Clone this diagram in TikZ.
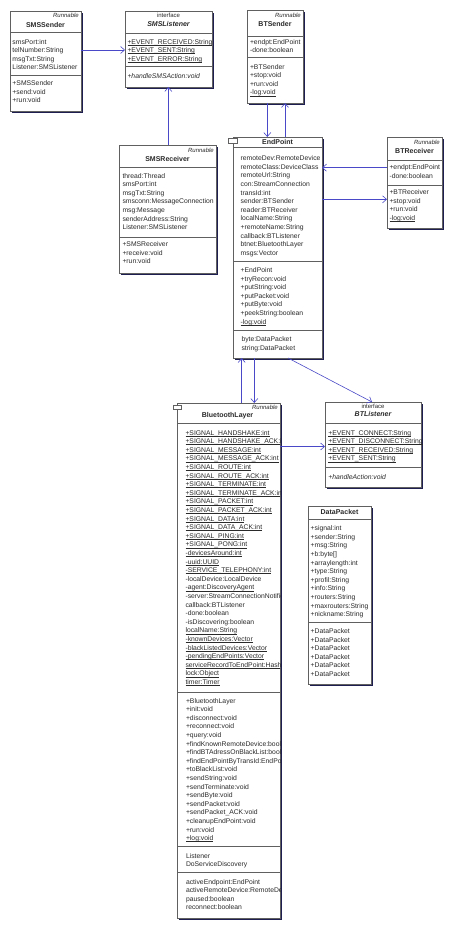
\documentclass[tikz,border=0pt]{standalone}
\usepackage{fontspec}
\setmainfont{Liberation Sans}
\usetikzlibrary{arrows.meta}
\definecolor{connc}{HTML}{4a4ac8}
\definecolor{shad}{HTML}{1e1e50}
\definecolor{bord}{HTML}{606060}
\definecolor{txt}{HTML}{2a2a2a}
\newcommand\fs{\fontsize{6.8}{8.6}\selectfont}
\newcommand\ul[1]{\setbox0\hbox{#1}\rlap{\rule[-1.1pt]{\wd0}{0.45pt}}\box0}
\tikzset{
 x=1pt,y=-1pt,
 cbox/.style={draw=bord, fill=white, line width=0.6pt, inner sep=0pt, outer sep=0pt, anchor=north west},
 cmp/.style={anchor=north west, inner sep=0pt, outer sep=0pt, align=left, font=\fs, text=txt},
 hname/.style={anchor=base, inner sep=0pt, font=\fontsize{7}{8}\selectfont\bfseries, text=txt},
 hsmall/.style={anchor=base east, inner sep=0pt, font=\fontsize{6}{7}\selectfont\itshape, text=txt},
 hint/.style={anchor=base, inner sep=0pt, font=\fontsize{6}{7}\selectfont, text=txt},
 sepl/.style={draw=bord, line width=0.6pt},
 conn/.style={draw=connc, line width=0.6pt, -{Straight Barb[length=4pt,width=7pt]}},
 icon/.style={draw=bord, fill=white, line width=0.5pt},
}
\newcommand\umlbox[5]{%
 \fill[shad] (#2+1.6,#3+1.6) rectangle (#4+1.6,#5+1.6);
 \node[cbox, minimum width={(#4)-(#2)}, minimum height={(#5)-(#3)}] (#1) at (#2,#3) {};}
\newcommand\sepat[2]{\draw[sepl] (#1.west |- 0,#2) -- (#1.east |- 0,#2);}
\begin{document}
\begin{tikzpicture}
\fill[white] (0,0) rectangle (450,925);
\useasboundingbox (0,0) rectangle (450,925);

% ---------- SMSSender
\umlbox{smssender}{10}{11}{81}{111}
\node[hsmall] (smssender-st) at (79,18) {Runnable};
\node[hname] (smssender-n) at (45.5,27.5) {SMSSender};
\sepat{smssender}{32}
\node[cmp] (smssender-a) at (12.5,41.7-3.6) {\strut smsPort:int\\telNumber:String\\msgTxt:String\\Listener:SMSListener};
\sepat{smssender}{75}
\node[cmp] (smssender-m) at (12.5,83.3-3.6) {\strut +SMSSender\\+send:void\\+run:void};

% ---------- SMSListener
\umlbox{smslistener}{125}{11}{212}{87}
\node[hint] (smslistener-st) at (168.5,17.9) {interface};
\node[hname, font=\fontsize{7}{8}\selectfont\bfseries\itshape] (smslistener-n) at (168.5,26.8) {SMSListener};
\sepat{smslistener}{33}
\node[cmp] (smslistener-a) at (127.5,41.7-3.6) {\strut\ul{+EVENT\_RECEIVED:String}\\\ul{+EVENT\_SENT:String}\\\ul{+EVENT\_ERROR:String}};
\sepat{smslistener}{66.7}
\node[cmp] (smslistener-m) at (127.5,76-3.6) {\strut\itshape +handleSMSAction:void};

% ---------- BTSender
\umlbox{btsender}{247}{10}{303}{103}
\node[hsmall] (btsender-st) at (301,17.9) {Runnable};
\node[hname] (btsender-n) at (275,26.8) {BTSender};
\sepat{btsender}{36}
\node[cmp] (btsender-a) at (250,41.7-3.6) {\strut +endpt:EndPoint\\-done:boolean};
\sepat{btsender}{57.3}
\node[cmp] (btsender-m) at (250,66.7-3.6) {\strut +BTSender\\+stop:void\\+run:void\\\ul{-log:void}};

% ---------- EndPoint
\umlbox{endpoint}{233}{137}{322}{358}
\draw[icon] (228,138.3) rectangle (237.5,142.8);
\node[hname] (endpoint-n) at (277.5,144.2) {EndPoint};
\sepat{endpoint}{147}
\node[cmp] (endpoint-a) at (240.7,158.3-3.6) {\strut remoteDev:RemoteDevice\\remoteClass:DeviceClass\\remoteUrl:String\\con:StreamConnection\\transId:int\\sender:BTSender\\reader:BTReceiver\\localName:String\\+remoteName:String\\callback:BTListener\\btnet:BluetoothLayer\\msgs:Vector};
\sepat{endpoint}{261.5}
\node[cmp] (endpoint-m) at (240.7,270-3.6) {\strut +EndPoint\\+tryRecon:void\\+putString:void\\+putPacket:void\\+putByte:void\\+peekString:boolean\\\ul{-log:void}};
\sepat{endpoint}{330.7}
\node[cmp] (endpoint-i) at (241.5,339.3-3.6) {\strut byte:DataPacket\\string:DataPacket};

% ---------- BTReceiver
\umlbox{btreceiver}{387}{137}{442}{228}
\node[hsmall] (btreceiver-st) at (440,144.2) {Runnable};
\node[hname] (btreceiver-n) at (414.5,153.2) {BTReceiver};
\sepat{btreceiver}{160}
\node[cmp] (btreceiver-a) at (389.5,167.3-3.6) {\strut +endpt:EndPoint\\-done:boolean};
\sepat{btreceiver}{185}
\node[cmp] (btreceiver-m) at (389.5,192.3-3.6) {\strut +BTReceiver\\+stop:void\\+run:void\\\ul{-log:void}};

% ---------- SMSReceiver
\umlbox{smsreceiver}{119}{145}{216}{273}
\node[hsmall] (smsreceiver-st) at (214,152.2) {Runnable};
\node[hname] (smsreceiver-n) at (167.5,161.5) {SMSReceiver};
\sepat{smsreceiver}{167.3}
\node[cmp] (smsreceiver-a) at (122.5,175.7-3.6) {\strut thread:Thread\\smsPort:int\\msgTxt:String\\smsconn:MessageConnection\\msg:Message\\senderAddress:String\\Listener:SMSListener};
\sepat{smsreceiver}{237.3}
\node[cmp] (smsreceiver-m) at (122.5,244.3-3.6) {\strut +SMSReceiver\\+receive:void\\+run:void};

% ---------- BluetoothLayer
\umlbox{btlayer}{177}{403}{280}{918}
\draw[icon] (173.3,404.8) rectangle (181.7,408.8);
\node[hsmall] (btlayer-st) at (278,409.5) {Runnable};
\node[hname] (btlayer-n) at (227.5,417.5) {BluetoothLayer};
\sepat{btlayer}{423.3}
\begin{scope}
\clip (177,403) rectangle (280,918);
\node[cmp] (btlayer-a) at (185.5,432.7-3.6) {\strut\ul{+SIGNAL\_HANDSHAKE:int}\\\ul{+SIGNAL\_HANDSHAKE\_ACK:int}\\\ul{+SIGNAL\_MESSAGE:int}\\\ul{+SIGNAL\_MESSAGE\_ACK:int}\\\ul{+SIGNAL\_ROUTE:int}\\\ul{+SIGNAL\_ROUTE\_ACK:int}\\\ul{+SIGNAL\_TERMINATE:int}\\\ul{+SIGNAL\_TERMINATE\_ACK:int}\\\ul{+SIGNAL\_PACKET:int}\\\ul{+SIGNAL\_PACKET\_ACK:int}\\\ul{+SIGNAL\_DATA:int}\\\ul{+SIGNAL\_DATA\_ACK:int}\\\ul{+SIGNAL\_PING:int}\\\ul{+SIGNAL\_PONG:int}\\\ul{-devicesAround:int}\\\ul{-uuid:UUID}\\\ul{-SERVICE\_TELEPHONY:int}\\-localDevice:LocalDevice\\\ul{-agent:DiscoveryAgent}\\-server:StreamConnectionNotifier\\callback:BTListener\\-done:boolean\\-isDiscovering:boolean\\\ul{localName:String}\\\ul{-knownDevices:Vector}\\\ul{-blackListedDevices:Vector}\\\ul{-pendingEndPoints:Vector}\\\ul{serviceRecordToEndPoint:Hashtable}\\\ul{lock:Object}\\\ul{timer:Timer}};
\node[cmp] (btlayer-m) at (186,700.7-3.6) {\strut +BluetoothLayer\\+init:void\\+disconnect:void\\+reconnect:void\\+query:void\\+findKnownRemoteDevice:boolean\\+findBTAdressOnBlackList:boolean\\+findEndPointByTransId:EndPoint\\+toBlackList:void\\+sendString:void\\+sendTerminate:void\\+sendByte:void\\+sendPacket:void\\+sendPacket\_ACK:void\\+cleanupEndPoint:void\\+run:void\\\ul{+log:void}};
\node[cmp] (btlayer-i) at (186,855.7-3.6) {\strut Listener\\DoServiceDiscovery};
\node[cmp] (btlayer-x) at (186,881.7-3.6) {\strut activeEndpoint:EndPoint\\activeRemoteDevice:RemoteDevice\\paused:boolean\\reconnect:boolean};
\end{scope}
\sepat{btlayer}{692}
\sepat{btlayer}{846}
\sepat{btlayer}{872.3}

% ---------- BTListener
\umlbox{btlistener}{325}{402}{421}{487}
\node[hint] (btlistener-st) at (373,408.9) {interface};
\node[hname, font=\fontsize{7}{8}\selectfont\bfseries\itshape] (btlistener-n) at (373,416.5) {BTListener};
\sepat{btlistener}{423.3}
\node[cmp] (btlistener-a) at (328.3,432.7-3.6) {\strut\ul{+EVENT\_CONNECT:String}\\\ul{+EVENT\_DISCONNECT:String}\\\ul{+EVENT\_RECEIVED:String}\\\ul{+EVENT\_SENT:String}};
\sepat{btlistener}{467.3}
\node[cmp] (btlistener-m) at (328.3,476.7-3.6) {\strut\itshape +handleAction:void};

% ---------- DataPacket
\umlbox{datapacket}{308}{506}{371}{684}
\node[hname] (datapacket-n) at (339.5,514.3) {DataPacket};
\sepat{datapacket}{518.8}
\node[cmp] (datapacket-a) at (310.7,528.3-3.6) {\strut +signal:int\\+sender:String\\+msg:String\\+b:byte[]\\+arraylength:int\\+type:String\\+profil:String\\+info:String\\+routers:String\\+maxrouters:String\\+nickname:String};
\sepat{datapacket}{622.3}
\node[cmp] (datapacket-m) at (310.7,631-3.6) {\strut +DataPacket\\+DataPacket\\+DataPacket\\+DataPacket\\+DataPacket\\+DataPacket};

% ---------- connectors
\draw[conn] (smssender.east |- 0,50) -- (smslistener.west |- 0,50);
\draw[conn] (smsreceiver.north -| 168.3,0) -- (smslistener.south -| 168.3,0);
\draw[conn] (btsender.south -| 267.3,0) -- (endpoint.north -| 267.3,0);
\draw[conn] (endpoint.north -| 285,0) -- (btsender.south -| 285,0);
\draw[conn] (btreceiver.west |- 0,167.7) -- (endpoint.east |- 0,167.7);
\draw[conn] (endpoint.east |- 0,199.3) -- (btreceiver.west |- 0,199.3);
\draw[conn] (btlayer.north -| 241.7,0) -- (endpoint.south -| 241.7,0);
\draw[conn] (endpoint.south -| 254.3,0) -- (btlayer.north -| 254.3,0);
\draw[conn] (endpoint.south -| 288,0) -- (btlistener.north -| 372,0);
\draw[conn] (btlayer.east |- 0,446.5) -- (btlistener.west |- 0,446.5);
\end{tikzpicture}
\end{document}
